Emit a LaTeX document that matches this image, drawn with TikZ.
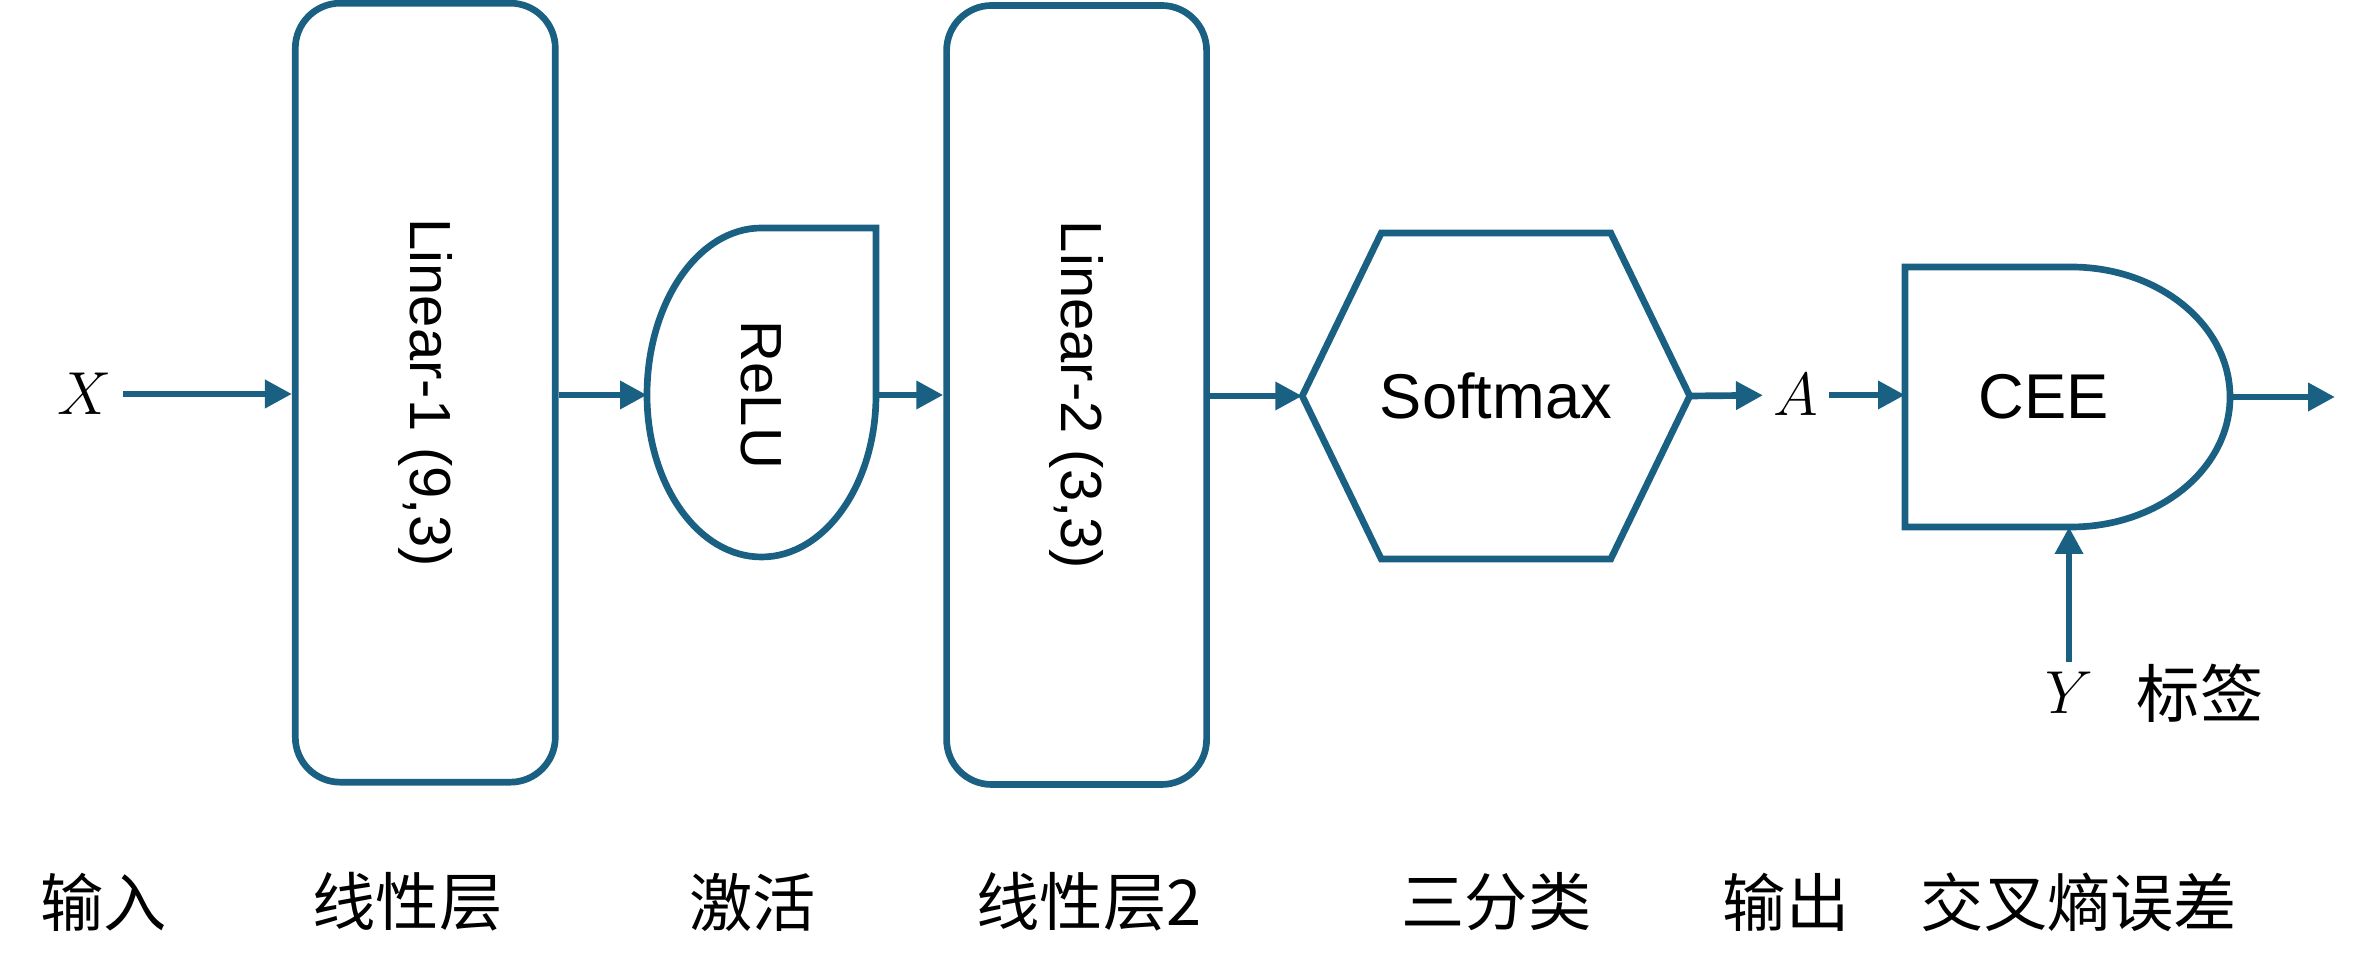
\documentclass[tikz,border=0pt]{standalone}
\usepackage{fontspec}
\setmainfont{Liberation Sans}
\newfontfamily\cjk{Noto Sans CJK SC}
\usepackage{xcolor}
\usepackage{tikz}
\usetikzlibrary{arrows.meta}
\definecolor{netblue}{RGB}{26,96,130}

\begin{document}
\begin{tikzpicture}[
font=\fontsize{18}{22}\selectfont,
edge/.style={draw=netblue,line width=1.9pt},
arr/.style={netblue,line width=1.9pt,-{Triangle[length=2.7mm,width=2.7mm]}},
layer/.style={edge,rounded corners=0.45cm,minimum width=2.6cm,minimum height=7.79cm,inner sep=0pt},
vtext/.style={font=\fontsize{16.5}{20}\selectfont},
blank/.style={inner sep=0pt,outer sep=0pt},
var/.style={inner sep=1mm}
]
\useasboundingbox (0,0) rectangle (23.64,9.79);

% layers
\node[layer,vtext] (lin1) at (4.253,5.863) {\rotatebox{-90}{Linear-1 (9,3)}};
\node[layer,vtext] (lin2) at (10.766,5.84) {\rotatebox{-90}{Linear-2 (3,3)}};

% relu
\node[blank,vtext,minimum width=2.29cm] (relu) at (7.615,5.84) {\rotatebox{-90}{ReLU}};
\draw[edge] (relu.east) -- ++(0,1.67) -- ++(-1.145,0)
  arc[start angle=90,end angle=180,x radius=1.145cm,y radius=1.67cm]
  arc[start angle=180,end angle=360,x radius=1.145cm,y radius=1.62cm] -- cycle;

% softmax
\node[blank,minimum width=3.875cm] (soft) at (14.96,5.83) {Softmax};
\draw[edge] (soft.west) -- ++(0.79,1.63) -- ++(2.295,0) -- (soft.east)
  -- ++(-0.79,-1.63) -- ++(-2.295,0) -- cycle;

% cee
\node[blank,minimum width=3.25cm,minimum height=2.6cm] (cee) at (20.675,5.82) {};
\node (ceetxt) at ([xshift=-2.35mm]cee.center) {CEE};
\draw[edge] (cee.west) ++(0,1.3) -- ++(1.66,0)
  arc[start angle=90,end angle=-90,x radius=1.59cm,y radius=1.3cm]
  -- ++(-1.66,0) -- cycle;

% variables
\node[var] (xin) at (0.85,5.85) {$X$};
\node[var] (aout) at (17.96,5.84) {$A$};
\node[var] (ylab) at (20.69,2.86) {$Y$};
\node (ytxt) at (22.0,2.86) {\cjk 标签};
\coordinate (out) at (23.35,5.82);

% arrows
\draw[arr] (xin) -- (xin -| lin1.west);
\draw[arr] (lin1.east |- relu.west) -- (relu.west);
\draw[arr] (relu.east) -- (relu.east -| lin2.west);
\draw[arr] (lin2.east |- soft.west) -- (soft.west);
\draw[arr] (soft.east) -- (aout);
\draw[arr] (aout) -- (aout -| cee.west);
\draw[arr] (cee.east) -- (out);
\draw[arr] (ylab.north) -- (ylab.north |- cee.south);

% captions
\node (c1) at (1.035,0.77) {\cjk 输入};
\node (c2) at (4.075,0.77) {\cjk 线性层};
\node (c3) at (7.527,0.77) {\cjk 激活};
\node (c4) at (10.89,0.77) {\cjk 线性层2};
\node (c5) at (14.965,0.77) {\cjk 三分类};
\node (c6) at (17.86,0.77) {\cjk 输出};
\node (c7) at (20.79,0.77) {\cjk 交叉熵误差};
\end{tikzpicture}
\end{document}
